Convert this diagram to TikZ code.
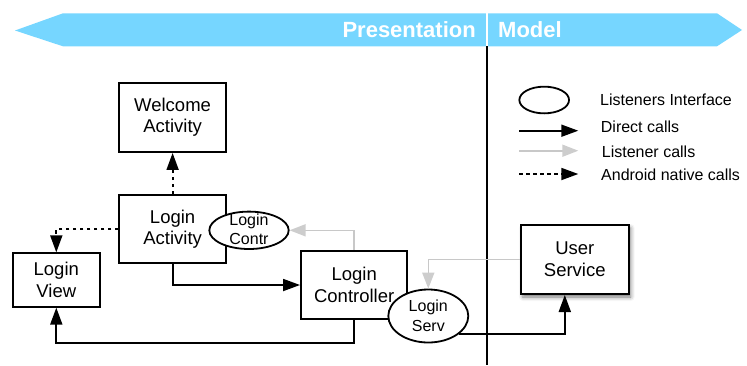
\documentclass[tikz,border=0pt]{standalone}
\usepackage{fontspec}
\setmainfont{Liberation Sans}
\usetikzlibrary{arrows.meta,shapes.geometric,shadows.blur}
\definecolor{bannercyan}{RGB}{118,214,255}
\definecolor{listenergray}{RGB}{200,200,200}
\definecolor{listenerhead}{RGB}{205,205,205}

\begin{document}
\begin{tikzpicture}[x=1pt,y=-1pt,
  box/.style={draw, line width=2pt, fill=white, inner sep=0pt, align=center,
    font=\fontsize{18.5}{21.7}\selectfont},
  iface/.style={draw, ellipse, line width=1.8pt, fill=white, inner sep=0pt},
  ifacetext/.style={align=center, inner sep=0pt, font=\fontsize{16}{19.5}\selectfont},
  direct/.style={line width=1.8pt, -{Triangle[length=17pt,width=12pt]}},
  listener/.style={line width=1.6pt, draw=listenergray,
    -{Triangle[length=16pt,width=12pt,fill=listenerhead,color=listenerhead]}},
  native/.style={line width=1.8pt, dash pattern=on 3.5pt off 3.5pt,
    -{Triangle[length=17pt,width=12pt]}},
  legendtext/.style={anchor=base west, inner sep=0pt, font=\fontsize{16}{19}\selectfont},
  layertext/.style={inner sep=0pt, text=white, font=\bfseries\fontsize{22}{22}\selectfont},
  ]
\useasboundingbox (0,0) rectangle (747,365);

% layer banner
\fill[bannercyan] (15,30.5) -- (63,13.3) -- (717,13.3) -- (742,30) -- (717,46.3) -- (63,46.3) -- cycle;
\draw[white, line width=1.5pt] (487,13.3) -- (487,46.3);
\draw[line width=1.8pt] (487,46.3) -- (487,365);
\node[layertext, anchor=base east] (presentation) at (476,37.3) {Presentation};
\node[layertext, anchor=base west] (model) at (498,37.3) {Model};

% components
\node[box, minimum width=107pt, minimum height=69.3pt] (welcome) at (172.6,117.3) {Welcome\\Activity};
\node[box, minimum width=106.7pt, minimum height=68.3pt] (activity) at (172.6,229.2) {Login\\Activity};
\node[box, minimum width=87.3pt, minimum height=53.3pt] (view) at (56.3,280) {Login\\View};
\node[box, minimum width=106.3pt, minimum height=68.7pt] (controller) at (354.2,285) {Login\\Controller};
\node[box, minimum width=107.7pt, minimum height=69pt,
  blur shadow={shadow xshift=2pt, shadow yshift=-3pt, shadow blur radius=4pt, shadow opacity=55}]
  (userservice) at (574.8,259.5) {User\\Service};

% listener interfaces
\node[iface, minimum width=79.4pt, minimum height=37.4pt] (contr) at (249,230.3) {};
\node[ifacetext] (contrtext) at ([yshift=1pt]contr.center) {Login\\Contr};
\node[iface, minimum width=80pt, minimum height=53pt] (serv) at (428.3,316) {};
\node[ifacetext] (servtext) at (serv) {Login\\Serv};

% calls
\draw[native] (activity.north) -- (welcome.south);
\draw[native] (activity.west) -| (view.north);
\draw[direct] (activity.south) |- (controller.west);
\coordinate (lowrun) at (0,342.7);
\draw[direct] (controller.south) |- (lowrun -| view.south) -- (view.south);
\draw[listener] (controller.north) |- (contr.east);
\draw[listener] (userservice.west) -| (serv.north);
\draw[direct] (serv.-30) -| ([xshift=-10pt]userservice.south);

% legend
\node[iface, minimum width=49.7pt, minimum height=26.7pt] (keyiface) at (544.2,100) {};
\node[legendtext] (keyifacetext) at (600,105) {Listeners Interface};
\coordinate (d0) at (519,130.7);
\coordinate (d1) at (578.3,130.7);
\draw[direct] (d0) -- (d1);
\node[legendtext] (keydirect) at (600.7,132.3) {Direct calls};
\coordinate (l0) at (519,150.7);
\coordinate (l1) at (578.3,150.7);
\draw[listener] (l0) -- (l1);
\node[legendtext] (keylistener) at (601.7,157.3) {Listener calls};
\coordinate (n0) at (519,174);
\coordinate (n1) at (578.3,174);
\draw[native] (n0) -- (n1);
\node[legendtext] (keynative) at (601,180) {Android native calls};
\end{tikzpicture}
\end{document}
